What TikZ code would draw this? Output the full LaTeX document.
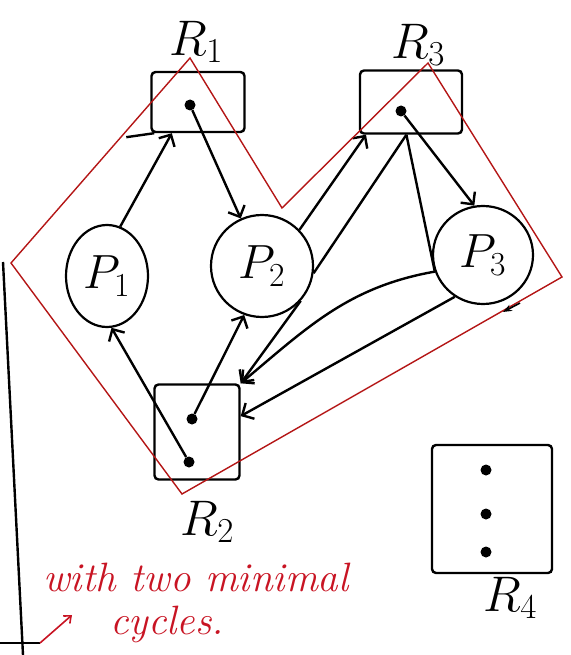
\RequirePackage{fix-cm}
\documentclass[tikz,border=0pt]{standalone}
\usetikzlibrary{arrows.meta,shapes.geometric}
\definecolor{loopred}{RGB}{180,22,22}
\definecolor{penred}{RGB}{200,20,35}

\begin{document}
\begin{tikzpicture}[x=1pt,y=-1pt,
    res/.style={draw,line width=2.4pt,rounded corners=4pt,inner sep=0pt},
    proc/.style={draw,ellipse,line width=2.2pt,inner sep=0pt,font=\fontsize{48}{48}\selectfont},
    inst/.style={circle,fill,inner sep=0pt,minimum size=11pt},
    lbl/.style={font=\fontsize{50}{50}\selectfont},
    note/.style={penred,inner sep=0pt,anchor=base west,font=\fontsize{41}{41}\selectfont\itshape},
    edge/.style={line width=2.4pt,-{Straight Barb[length=9pt,width=18pt]}},
    redloop/.style={draw=loopred,line width=1.4pt}]
  \useasboundingbox (0,0) rectangle (570,655);

  % resource boxes
  \node[res,minimum width=93pt,minimum height=60pt] (R1) at (198,102) {};
  \node[res,minimum width=102pt,minimum height=63pt] (R3) at (411,102) {};
  \node[res,minimum width=85pt,minimum height=95pt] (R2) at (197,432) {};
  \node[res,minimum width=120pt,minimum height=128pt] (R4) at (492,509) {};
  \draw[line width=2.4pt] (R1.south west) ++(4,0) -- ++(-28,4);

  % instances
  \node[inst] (r1a) at (190,105) {};
  \node[inst] (r3a) at (401,111) {};
  \node[inst] (r2a) at (192,419) {};
  \node[inst] (r2b) at (189,462) {};
  \node[inst] (r4a) at (486,470) {};
  \node[inst] (r4b) at (486,514) {};
  \node[inst] (r4c) at (486,552) {};

  % processes
  \node[proc,minimum width=82pt,minimum height=102pt] (P1) at (107,276) {$P_1$};
  \node[proc,minimum width=102pt,minimum height=102pt] (P2) at (262,266) {$P_2$};
  \node[proc,minimum width=100pt,minimum height=98pt] (P3) at (483,255) {$P_3$};

  % names
  \node[lbl] (l1) at (196,42) {$R_1$};
  \node[lbl] (l3) at (418,45) {$R_3$};
  \node[lbl] (l2) at (207,522) {$R_2$};
  \node[lbl] (l4) at (510,598) {$R_4$};

  % request and assignment edges
  \draw[edge] (P1.75) -- (R1.230);
  \draw[edge] (r1a) -- (P2);
  \draw[edge] (P2.44) -- (R3.216);
  \draw[line width=2.4pt] (P2.-8) -- (R3.262);
  \draw[edge] (r3a) -- (P3.100);
  \draw[line width=2.4pt] (R3.262) -- (P3.199);
  \draw[edge] (P3.199) to[out=190,in=40] (R2.north east);
  \draw[edge] (P2.-42) -- (R2.north east);
  \draw[edge] (P3.236) -- (R2.20);
  \draw[edge] (r2a) -- (P2.250);
  \draw[edge] (r2b) -- (P1.275);

  % the two cycles
  \draw[redloop] (11,263) -- (190,58) -- (282,208) -- (428,63) -- (562,277) -- (182,494) -- cycle;
  \draw[line width=1.6pt,-{Stealth[length=9pt]}] (520,303) -- (503,312);

  % margin and note
  \draw[line width=2.4pt] (3,262) -- (23,655);
  \draw[line width=2pt] (0,643) -- (40,643);
  \draw[penred,line width=1.6pt,-{Straight Barb[length=6pt,width=10pt]}] (40,643) -- (72,615);
  \node[note] (note1) at (43,591) {with two minimal};
  \node[note] (note2) at (110,634) {cycles.};
\end{tikzpicture}
\end{document}
